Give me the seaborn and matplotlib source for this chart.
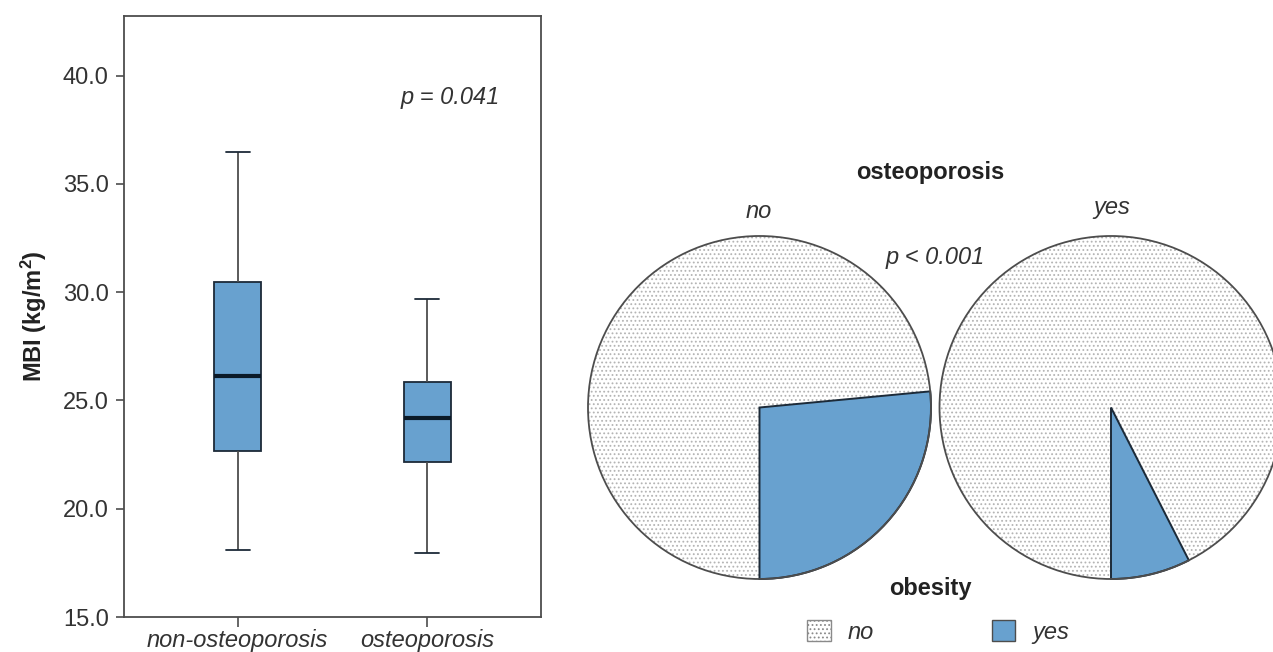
import matplotlib
matplotlib.use("Agg")
import matplotlib.pyplot as plt
from matplotlib.patches import Patch, Circle
import seaborn as sns
import pandas as pd

# five-number summaries (min, Q1, median, Q3, max)
groups = ["non-osteoporosis", "osteoporosis"]
non_osteo_bmi = [18.1, 22.67, 26.15, 30.47, 36.46]
osteo_bmi = [17.96, 22.15, 24.2, 25.85, 29.7]

# obesity share (%) per osteoporosis group, pie order: yes, no
pie_titles = ["no", "yes"]
obesity_labels = ["yes", "no"]
obesity_in_no = [26.5, 73.5]
obesity_in_yes = [7.5, 92.5]

blue = "#68a1cf"
dark = "#1c2a38"
grey = "#4d4d4d"
txt = "#333333"
FS = 17

sns.set_theme(style="ticks")
plt.rcParams["font.family"] = ["Liberation Sans", "DejaVu Sans"]
plt.rcParams["mathtext.fontset"] = "custom"
plt.rcParams["mathtext.rm"] = "Liberation Sans"
plt.rcParams["mathtext.bf"] = "Liberation Sans:bold"
plt.rcParams["mathtext.it"] = "Liberation Sans:italic"
plt.rcParams["hatch.linewidth"] = 0.8

W, H = 1273, 652
fig = plt.figure(figsize=(W / 100, H / 100), dpi=100)


def px_box(x0, y0, x1, y1):
    # pixel box (top-left origin) -> figure fraction rect
    return [x0 / W, (H - y1) / H, (x1 - x0) / W, (y1 - y0) / H]


# ---- left panel: box plot
df = pd.DataFrame({
    "group": [groups[0]] * len(non_osteo_bmi) + [groups[1]] * len(osteo_bmi),
    "bmi": non_osteo_bmi + osteo_bmi,
})

ax = fig.add_axes(px_box(124, 16, 541, 617))
sns.boxplot(data=df, x="group", y="bmi", order=groups, width=0.25,
            color=blue, saturation=1, linecolor=grey, linewidth=1.3,
            ax=ax,
            boxprops=dict(edgecolor=dark, linewidth=1.3),
            medianprops=dict(color="#0b1a28", linewidth=3),
            whiskerprops=dict(color=grey, linewidth=1.3),
            capprops=dict(color=dark, linewidth=1.3))
ax.set_xlim(-0.6, 1.6)
ax.set_ylim(15, 42.75)
ax.set_yticks([15, 20, 25, 30, 35, 40])
ax.set_yticklabels([f"{v:.1f}" for v in [15, 20, 25, 30, 35, 40]])
ax.set_xlabel("")
ax.set_ylabel(r"MBI (kg/m$^{\mathbf{2}}$)", fontsize=FS, fontweight="bold",
              color="#222222", labelpad=10)
ax.tick_params(axis="y", labelsize=FS, length=6, width=1.2, color=grey,
               labelcolor=txt, pad=5)
ax.tick_params(axis="x", labelsize=FS, length=7, width=1.2, color=grey,
               labelcolor=txt, pad=2)
for lab in ax.get_xticklabels():
    lab.set_fontstyle("italic")
for sp in ax.spines.values():
    sp.set_visible(True)
    sp.set_color(grey)
    sp.set_linewidth(1.3)
ax.text(1.12, 39.0, "p = 0.041", fontsize=FS, fontstyle="italic",
        color=txt, ha="center", va="center")

# ---- right panel: two pies
pie_boxes = [px_box(588, 236, 931, 579), px_box(939.5, 236, 1282.5, 579)]
for box, vals, title in zip(pie_boxes, [obesity_in_no, obesity_in_yes], pie_titles):
    pax = fig.add_axes(box)
    wedges, _ = pax.pie(vals, startangle=-90, counterclock=True, radius=1,
                        colors=[blue, "white"])
    wedges[0].set_edgecolor(dark)
    wedges[0].set_linewidth(1.4)
    wedges[1].set_edgecolor("#b4b4b4")
    wedges[1].set_hatch("....")
    wedges[1].set_linewidth(0)
    wedges[0].set_zorder(3)
    circ = Circle((0, 0), 1, facecolor="none", edgecolor=grey, linewidth=1.3,
                  zorder=4)
    pax.add_patch(circ)
    for p in list(wedges) + [circ]:
        p.set_clip_on(False)
    pax.set_xlim(-1, 1)
    pax.set_ylim(-1, 1)
    pax.set_aspect("equal")
    pax.axis("off")

fig.text(930 / W, 1 - 172 / H, "osteoporosis", fontsize=FS, fontweight="bold",
         color="#222222", ha="center", va="center")
fig.text(759 / W, 1 - 212 / H, pie_titles[0], fontsize=FS, fontstyle="italic",
         color=txt, ha="center", va="center")
fig.text(1112 / W, 1 - 208 / H, pie_titles[1], fontsize=FS, fontstyle="italic",
         color=txt, ha="center", va="center")
fig.text(935 / W, 1 - 258 / H, "p < 0.001", fontsize=FS, fontstyle="italic",
         color=txt, ha="center", va="center")
fig.text(930 / W, 1 - 589 / H, "obesity", fontsize=FS, fontweight="bold",
         color="#222222", ha="center", va="center")

handles = [Patch(facecolor="white", edgecolor="#8a8a8a", hatch="...."),
           Patch(facecolor=blue, edgecolor=grey)]
leg = fig.legend(handles, ["no", "yes"], ncol=2, loc="center",
                 bbox_to_anchor=(938 / W, 1 - 632 / H), frameon=False,
                 handlelength=1.0, handleheight=0.95, handletextpad=0.7,
                 columnspacing=5.0, prop=dict(size=FS, style="italic"))
for t in leg.get_texts():
    t.set_color(txt)

fig.savefig("out.png", dpi=100)
